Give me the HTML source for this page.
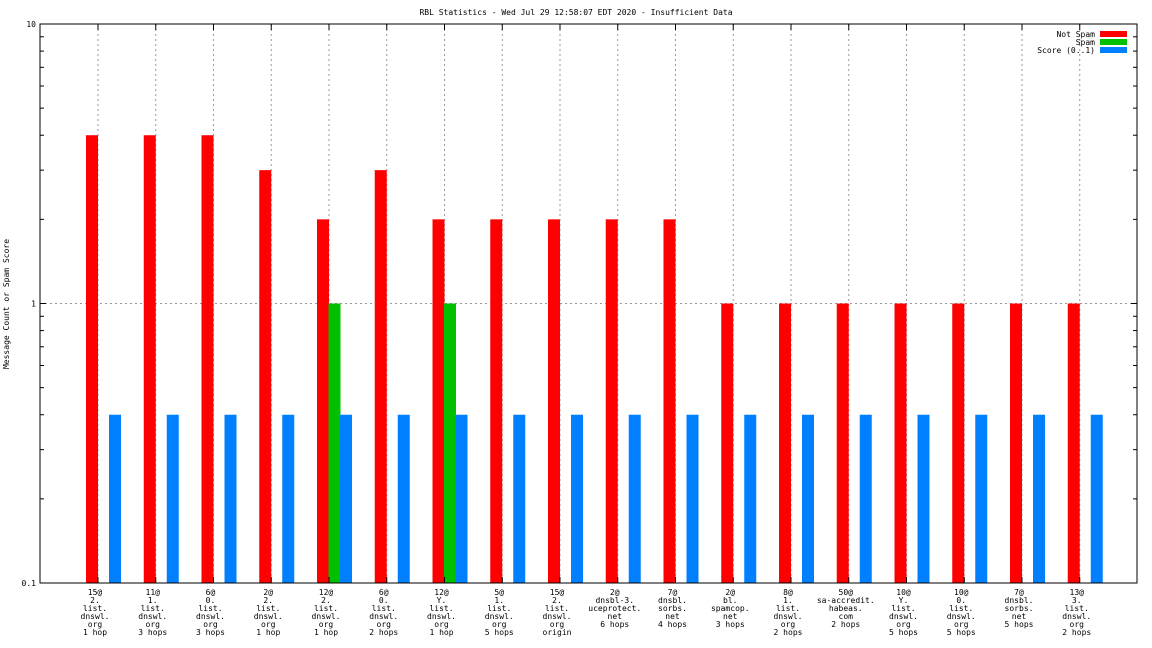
<!DOCTYPE html>
<html><head><meta charset="utf-8"><style>
body{margin:0;background:#fff}
svg{display:block;font-family:"DejaVu Sans Mono","Liberation Mono",monospace;font-size:8px}
</style></head><body>
<svg id="chart" width="1152" height="648" xmlns="http://www.w3.org/2000/svg">
<text x="576" y="15" text-anchor="middle">RBL Statistics - Wed Jul 29 12:58:07 EDT 2020 - Insufficient Data</text>
<text transform="translate(9,304) rotate(-90)" text-anchor="middle">Message Count or Spam Score</text>
<g id="grid"></g><g id="bars"></g><g id="axes"></g><g id="xlabels"></g>
<g>
<text x="1095" y="37" text-anchor="end">Not Spam</text>
<rect x="1100" y="31" width="27" height="6" fill="#ff0000"/>
<text x="1095" y="45" text-anchor="end">Spam</text>
<rect x="1100" y="39" width="27" height="6" fill="#00c000"/>
<text x="1095" y="53" text-anchor="end">Score (0..1)</text>
<rect x="1100" y="47" width="27" height="6" fill="#0080ff"/>
</g>
</svg>
<script>
const categories=[
["15@","2.","list.","dnswl.","org","1 hop"],["11@","1.","list.","dnswl.","org","3 hops"],["6@","0.","list.","dnswl.","org","3 hops"],["2@","2.","list.","dnswl.","org","1 hop"],["12@","2.","list.","dnswl.","org","1 hop"],["6@","0.","list.","dnswl.","org","2 hops"],["12@","Y.","list.","dnswl.","org","1 hop"],["5@","1.","list.","dnswl.","org","5 hops"],["15@","2.","list.","dnswl.","org","origin"],["2@","dnsbl-3.","uceprotect.","net","6 hops"],["7@","dnsbl.","sorbs.","net","4 hops"],["2@","bl.","spamcop.","net","3 hops"],["8@","1.","list.","dnswl.","org","2 hops"],["50@","sa-accredit.","habeas.","com","2 hops"],["10@","Y.","list.","dnswl.","org","5 hops"],["10@","0.","list.","dnswl.","org","5 hops"],["7@","dnsbl.","sorbs.","net","5 hops"],["13@","3.","list.","dnswl.","org","2 hops"]];
const notSpam=[4,4,4,3,2,3,2,2,2,2,2,1,1,1,1,1,1,1];
const spam=[0,0,0,0,1,0,1,0,0,0,0,0,0,0,0,0,0,0];
const score=[0.4,0.4,0.4,0.4,0.4,0.4,0.4,0.4,0.4,0.4,0.4,0.4,0.4,0.4,0.4,0.4,0.4,0.4];
const yTicks=[0.1,1,10];
const NS="http://www.w3.org/2000/svg";
const L=40,R=1137,T=24,B=583;
function y(v){return B-(Math.log10(v)+1)/2*(B-T);}
function xg(i){return 86+i*57.75;}
function mk(tag,attrs,parent){const e=document.createElementNS(NS,tag);for(const k in attrs)e.setAttribute(k,attrs[k]);document.getElementById(parent).appendChild(e);return e;}
// grid
yTicks.forEach(v=>{if(v>0.1&&v<10){const g=mk('line',{x1:L,x2:R,y1:y(v),y2:y(v),stroke:'#999','stroke-dasharray':'2,3'},'grid');

}});
categories.forEach((c,i)=>{const g=mk('line',{x1:xg(i)+12,x2:xg(i)+12,y1:T,y2:B,stroke:'#999','stroke-dasharray':'2,3'},'grid');

});
// bars
categories.forEach((c,i)=>{
 const x0=xg(i);
 if(notSpam[i]>0){const r=mk('rect',{x:x0,y:y(notSpam[i]),width:12,height:B-y(notSpam[i]),fill:'#ff0000'},'bars');
 
 }
 if(spam[i]>0){const r=mk('rect',{x:x0+11.5,y:y(spam[i]),width:12,height:B-y(spam[i]),fill:'#00c000'},'bars');
 
 }
 if(score[i]>0){const r=mk('rect',{x:x0+23,y:y(score[i]),width:12,height:B-y(score[i]),fill:'#0080ff'},'bars');
 
 }
 c.forEach((s,j)=>{const t=mk('text',{x:x0+9,y:595+j*8,'text-anchor':'middle'},'xlabels');t.textContent=s;
 
 });
 mk('line',{x1:x0+12,x2:x0+12,y1:T,y2:T+6,stroke:'#000'},'axes');
 mk('line',{x1:x0+12,x2:x0+12,y1:B,y2:B-6,stroke:'#000'},'axes');
});
// axes frame
const f=mk('rect',{x:L,y:T,width:R-L,height:B-T,fill:'none',stroke:'#000','stroke-width':1},'axes');


yTicks.forEach(v=>{const t=mk('text',{x:L-4,y:y(v)+3,'text-anchor':'end'},'axes');t.textContent=String(v);
 
 
 mk('line',{x1:L,x2:L+6,y1:y(v),y2:y(v),stroke:'#000'},'axes');
 mk('line',{x1:R,x2:R-6,y1:y(v),y2:y(v),stroke:'#000'},'axes');
 if(v<10){for(let k=2;k<10;k++){const yy=y(v*k);
  mk('line',{x1:L,x2:L+4,y1:yy,y2:yy,stroke:'#000'},'axes');
  mk('line',{x1:R,x2:R-4,y1:yy,y2:yy,stroke:'#000'},'axes');}}
});
</script>
</body></html>
